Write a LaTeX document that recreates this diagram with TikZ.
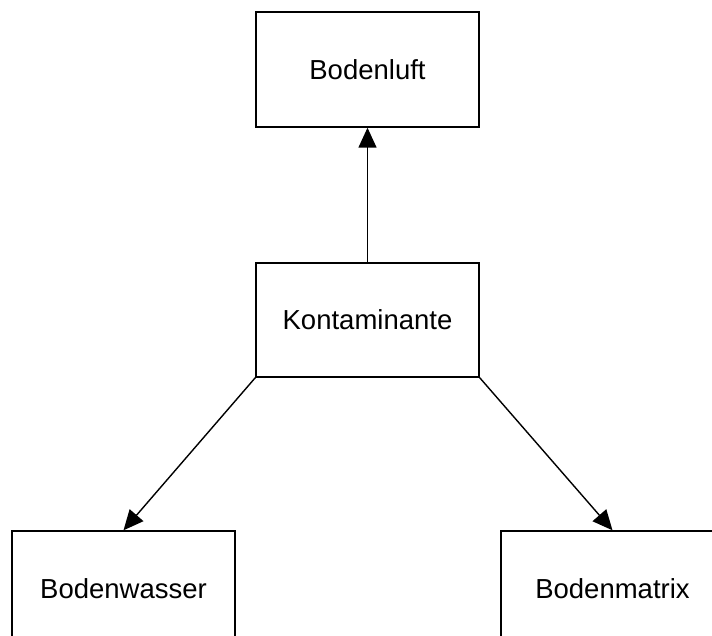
\documentclass[tikz,border=0pt]{standalone}
\usepackage{fontspec}
\setmainfont{Liberation Sans}
\usetikzlibrary{arrows.meta}
\begin{document}
\begin{tikzpicture}[x=1pt,y=-1pt,
  box/.style={draw,line width=1.4pt,rectangle,minimum width=223pt,minimum height=115pt,inner sep=0pt,font=\fontsize{27.5}{31}\selectfont},
  arr/.style={line width=1.4pt,-{Triangle[length=20pt,width=18pt]}}]
\useasboundingbox (0,0) rectangle (712,636);
\clip (0,0) rectangle (712,636);
\fill[white] (0,0) rectangle (712,636);
\node[box] (luft) at (367.5,69.5) {Bodenluft};
\node[box,minimum height=114pt] (kont) at (367.5,320) {Kontaminante};
\node[box] (wasser) at (123.5,588.5) {Bodenwasser};
\node[box] (matrix) at (612.5,588.5) {Bodenmatrix};
\draw[arr] (kont.north) -- (luft.south);
\draw[arr] (kont.south west) -- (wasser.north);
\draw[arr] (kont.south east) -- (matrix.north);
\end{tikzpicture}
\end{document}
